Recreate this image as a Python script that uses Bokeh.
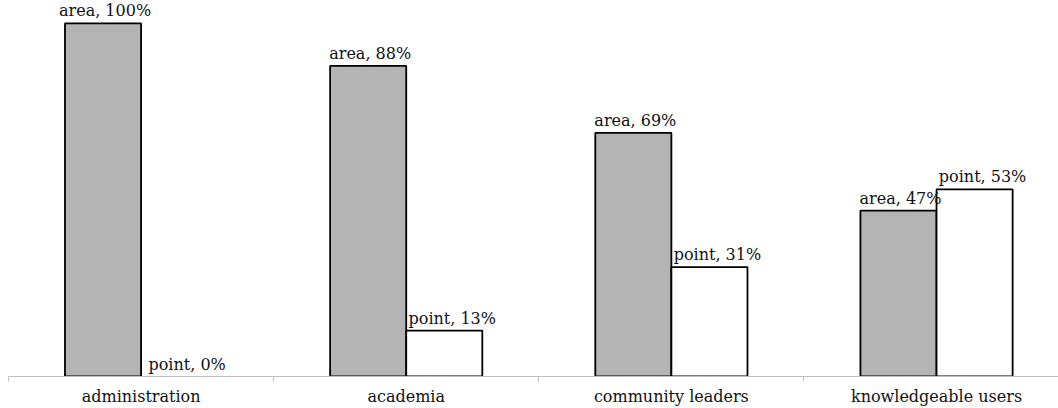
from bokeh.plotting import figure
from bokeh.models import ColumnDataSource, FixedTicker, Range1d
from bokeh.embed import file_html
from bokeh.resources import INLINE
from bokeh.core.properties import value

# Share of responses per stakeholder group (percent)
categories = ["administration", "academia", "community leaders", "knowledgeable users"]
area_pct = [100, 88, 69, 47]
point_pct = [0, 13, 31, 53]
series_names = ["area", "point"]

FONT = "DejaVu Serif"
BAR_W = 0.287

centers = [i + 0.5 for i in range(len(categories))]


def outline(v):
    # a zero-height bar leaves no visible outline on the axis
    return "black" if v > 0 else None


area_src = ColumnDataSource(dict(
    x=[c - BAR_W / 2 for c in centers],
    top=area_pct,
    line=[outline(v) for v in area_pct],
    label=[f"{series_names[0]}, {v}%" for v in area_pct],
))
point_src = ColumnDataSource(dict(
    x=[c + BAR_W / 2 for c in centers],
    top=point_pct,
    line=[outline(v) for v in point_pct],
    label=[f"{series_names[1]}, {v}%" for v in point_pct],
))

p = figure(
    width=1058, height=408,
    x_range=Range1d(0, 3.96),
    y_range=Range1d(0, 106.5),
    output_backend="svg", toolbar_location=None,
    min_border_left=8, min_border_right=0, min_border_top=0, min_border_bottom=29,
)

p.vbar(x="x", top="top", bottom=0, width=BAR_W, source=area_src,
       fill_color="#b4b4b4", line_color="line", line_width=1.8)
p.vbar(x="x", top="top", bottom=0, width=BAR_W, source=point_src,
       fill_color="white", line_color="line", line_width=1.8)

for src, dx in ((area_src, 2), (point_src, 8)):
    p.text(x="x", y="top", text="label", source=src,
           text_font=value(FONT), text_font_size="16px", text_color="#111111",
           text_align="center", text_baseline="bottom", x_offset=dx, y_offset=-3)

# x axis: category names at group centres, tick marks on group boundaries
xa = p.xaxis[0]
xa.ticker = FixedTicker(ticks=centers, minor_ticks=list(range(len(categories) + 1)))
xa.major_label_overrides = {c: name for c, name in zip(centers, categories)}
xa.major_tick_line_color = None
xa.minor_tick_in = 0
xa.minor_tick_out = 5
xa.minor_tick_line_color = "#bfbfbf"
xa.axis_line_color = "#bfbfbf"
xa.axis_line_width = 1.2
xa.major_label_text_font = FONT
xa.major_label_text_font_size = "16px"
xa.major_label_text_color = "#111111"
xa.major_label_standoff = 4

p.yaxis.visible = False
p.grid.visible = False
p.outline_line_color = None
p.background_fill_color = "white"
p.border_fill_color = "white"

open("out.html", "w").write(file_html(p, INLINE))
